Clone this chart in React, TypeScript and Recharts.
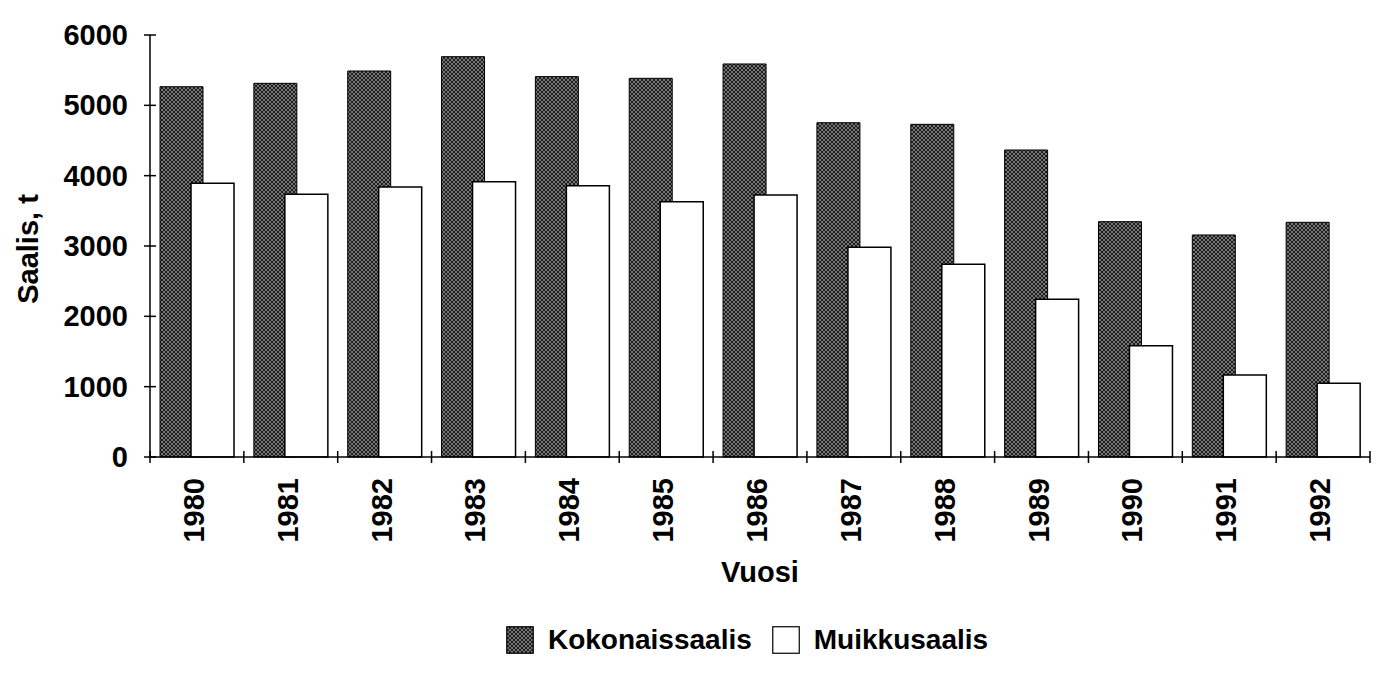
import React from 'react';
import { BarChart, Bar, XAxis, YAxis, Legend, Label } from 'recharts';

// Saalis (t) vuosittain
const years = ['1980', '1981', '1982', '1983', '1984', '1985', '1986', '1987', '1988', '1989', '1990', '1991', '1992'];
const kokonaissaalis = [5265, 5313, 5488, 5692, 5408, 5384, 5588, 4753, 4730, 4365, 3346, 3157, 3337];
const muikkusaalis = [3891, 3735, 3839, 3915, 3858, 3630, 3725, 2982, 2740, 2242, 1583, 1166, 1048];
const yTicks = [0, 1000, 2000, 3000, 4000, 5000, 6000];

const data = years.map((year, i) => ({
  year,
  kokonais: kokonaissaalis[i],
  muikku: muikkusaalis[i]
}));

const FONT = '"Liberation Sans", Arial, Helvetica, sans-serif';
const FONT_SIZE = 29;

const YearTick = (props: any) => {
  const { x, y, payload, index, visibleTicksCount } = props;
  const half = payload && payload.offset ? payload.offset : 47;
  const last = index === visibleTicksCount - 1;
  const ty = y + 21;
  return (
    <g>
      <line x1={x - half} x2={x - half} y1={y - 6} y2={y + 6} stroke="#000" strokeWidth={1.5} />
      {last && <line x1={x + half} x2={x + half} y1={y - 6} y2={y + 6} stroke="#000" strokeWidth={1.5} />}
      <text
        x={x - 3}
        y={ty}
        transform={`rotate(-90, ${x - 3}, ${ty})`}
        textAnchor="end"
        dominantBaseline="central"
        fontFamily={FONT}
        fontWeight="bold"
        fontSize={FONT_SIZE}
        fill="#000"
      >
        {payload.value}
      </text>
    </g>
  );
};

const ValueTick = (props: any) => {
  const { x, y, payload } = props;
  return (
    <g>
      <line x1={x - 6} x2={x + 6} y1={y} y2={y} stroke="#000" strokeWidth={1.5} />
      <text
        x={x - 22}
        y={y}
        textAnchor="end"
        dominantBaseline="central"
        fontFamily={FONT}
        fontWeight="bold"
        fontSize={FONT_SIZE}
        fill="#000"
      >
        {payload.value}
      </text>
    </g>
  );
};

const renderLegend = (props: any) => {
  const { payload } = props;
  return (
    <div
      style={{
        display: 'flex',
        justifyContent: 'center',
        alignItems: 'center',
        height: 40,
        gap: 20,
        fontFamily: FONT,
        fontWeight: 'bold',
        fontSize: 28,
        color: '#000'
      }}
    >
      {(payload || []).map((entry: any) => (
        <span key={entry.value} style={{ display: 'flex', alignItems: 'center' }}>
          <svg width={28} height={28} style={{ marginRight: 14 }}>
            <rect x={0.75} y={0.75} width={26.5} height={26.5} fill={entry.color} stroke="#000" strokeWidth={1.2} />
          </svg>
          {entry.value}
        </span>
      ))}
    </div>
  );
};

export default function App() {
  return (
    <div style={{ width: 1383, height: 673, background: '#fff' }}>
      <style>{'body{margin:0;background:#fff}'}</style>
      <BarChart
        width={1383}
        height={673}
        data={data}
        margin={{ top: 35, right: 13, left: 0, bottom: 13 }}
        barSize={43}
        barGap={-12}
      >
        <defs>
          <pattern id="speckle" width="4" height="4" patternUnits="userSpaceOnUse">
            <rect width="4" height="4" fill="#1e1e1e" />
            <path d="M0 0L4 4M4 0L0 4" stroke="#c8c8c8" strokeWidth={0.7} strokeOpacity={0.75} />
          </pattern>
        </defs>
        <XAxis
          dataKey="year"
          height={163}
          interval={0}
          tickSize={0}
          tickMargin={0}
          tickLine={false}
          axisLine={{ stroke: '#000', strokeWidth: 1.5 }}
          tick={<YearTick />}
        >
          <Label
            content={(p: any) => {
              const vb = p.viewBox || { x: 150, y: 457, width: 1220 };
              return (
                <text
                  x={vb.x + vb.width / 2}
                  y={vb.y + 125}
                  textAnchor="middle"
                  fontFamily={FONT}
                  fontWeight="bold"
                  fontSize={FONT_SIZE}
                  fill="#000"
                >
                  Vuosi
                </text>
              );
            }}
          />
        </XAxis>
        <YAxis
          width={150}
          domain={[0, 6000]}
          ticks={yTicks}
          interval={0}
          tickSize={0}
          tickMargin={0}
          tickLine={false}
          axisLine={{ stroke: '#000', strokeWidth: 1.5 }}
          tick={<ValueTick />}
        >
          <Label
            content={(p: any) => {
              const vb = p.viewBox || { x: 0, y: 35, height: 422 };
              const cx = 28;
              const cy = vb.y + vb.height / 2 + 3;
              return (
                <text
                  x={cx}
                  y={cy}
                  transform={`rotate(-90, ${cx}, ${cy})`}
                  textAnchor="middle"
                  dominantBaseline="central"
                  fontFamily={FONT}
                  fontWeight="bold"
                  fontSize={FONT_SIZE}
                  fill="#000"
                >
                  Saalis, t
                </text>
              );
            }}
          />
        </YAxis>
        <Legend
          verticalAlign="bottom"
          content={renderLegend}
          wrapperStyle={{ left: 137, width: 1220 }}
        />
        <Bar
          dataKey="kokonais"
          name="Kokonaissaalis"
          fill="url(#speckle)"
          stroke="#000"
          strokeWidth={1}
          isAnimationActive={false}
        />
        <Bar
          dataKey="muikku"
          name="Muikkusaalis"
          fill="#fff"
          stroke="#000"
          strokeWidth={1.5}
          isAnimationActive={false}
        />
      </BarChart>
    </div>
  );
}
